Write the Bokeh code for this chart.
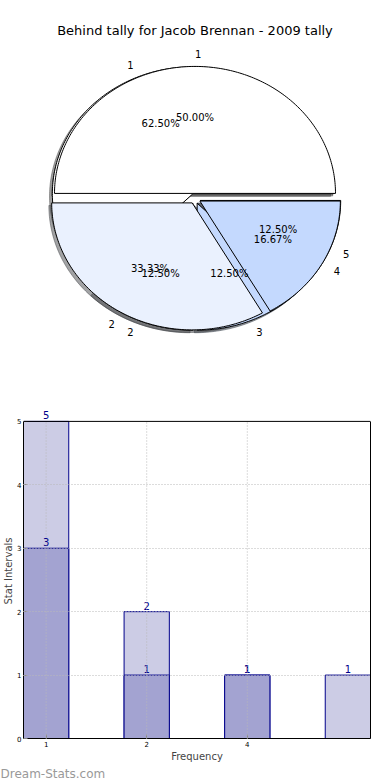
import numpy as np
from bokeh.plotting import figure
from bokeh.models import (Range1d, ColumnDataSource, FixedTicker, Label, Title, Span,
                          LinearAxis)
from bokeh.layouts import column
from bokeh.embed import file_html
from bokeh.resources import INLINE
from bokeh.core.properties import value

# ---------------- data ----------------
TITLE = "Behind tally for Jacob Brennan - 2009 tally"

pie1_labels = ["1", "2", "3", "5"]
pie1_values = [5, 1, 1, 1]
pie2_labels = ["1", "2", "4"]
pie2_values = [3, 2, 1]
pie_colors = ["#ffffff", "#eaf1fe", "#c4d9fe", "#a8c6fd"]

bar_categories = ["1", "2", "4", ""]
bar_light = [5, 2, 1, 1]
bar_dark = [3, 1, 1, 0]
y_label = "Stat Intervals"
x_label = "Frequency"
watermark = "Dream-Stats.com"

FONT = value("DejaVu Sans")

# shared horizontal frame borders (the column aligns plot frames)
BORDER_L, BORDER_R = 23, 20
W = 390

# ---------------- pie figure ----------------
PIE_H = 400
CX, CY = 194.5, 198.0      # pie centre, px from left / top of page
SX, SY = 140.5, 127.0      # px per unit radius
EXPLODE = 0.04
SHADOW = (-0.02, -0.02)

pie = figure(width=W, height=PIE_H, output_backend="svg", toolbar_location=None,
             x_range=Range1d(-(CX - BORDER_L) / SX, (W - BORDER_R - CX) / SX),
             y_range=Range1d(-(PIE_H - CY) / SY, CY / SY),
             x_axis_type=None, y_axis_type=None,
             min_border_left=BORDER_L, min_border_right=BORDER_R,
             min_border_top=0, min_border_bottom=0)
pie.outline_line_color = None
pie.grid.visible = False
pie.background_fill_color = "white"
pie.border_fill_color = "white"


def pie_geometry(values):
    vals = np.asarray(values, dtype=float)
    fr = vals / vals.sum()
    t2 = np.cumsum(fr) * 2 * np.pi
    t1 = t2 - fr * 2 * np.pi
    mid = (t1 + t2) / 2
    cx = EXPLODE * np.cos(mid)
    cy = EXPLODE * np.sin(mid)
    polys_x, polys_y = [], []
    for a, b, x0, y0 in zip(t1, t2, cx, cy):
        th = np.linspace(a, b, max(int((b - a) / (2 * np.pi) * 360), 4))
        polys_x.append(np.concatenate([[x0], x0 + np.cos(th), [x0]]))
        polys_y.append(np.concatenate([[y0], y0 + np.sin(th), [y0]]))
    return fr, mid, cx, cy, polys_x, polys_y


geo = [pie_geometry(pie1_values), pie_geometry(pie2_values)]
labels_all = [pie1_labels, pie2_labels]


def shade(c):
    r, g, b = int(c[1:3], 16), int(c[3:5], 16), int(c[5:7], 16)
    return "#%02x%02x%02x" % (int(r * 0.3), int(g * 0.3), int(b * 0.3))


# shadows (drawn below every wedge)
for fr, mid, cx, cy, px, py in geo:
    cols = [shade(pie_colors[i % len(pie_colors)]) for i in range(len(px))]
    pie.patches([x + SHADOW[0] for x in px], [y + SHADOW[1] for y in py],
                fill_color=cols, fill_alpha=0.5, line_color=cols, line_alpha=0.5)

# wedges
for fr, mid, cx, cy, px, py in geo:
    cols = [pie_colors[i % len(pie_colors)] for i in range(len(px))]
    pie.patches(px, py, fill_color=cols, line_color="black", line_width=1)

# texts
for (fr, mid, cx, cy, px, py), labs in zip(geo, labels_all):
    pct = ["%.2f%%" % (100 * f) for f in fr]
    pie.text(cx + 0.6 * np.cos(mid), cy + 0.6 * np.sin(mid), text=pct,
             text_align="center", text_baseline="middle",
             text_font=FONT, text_font_size="10px", text_color="black")
    xt = cx + 1.1 * np.cos(mid)
    yt = cy + 1.1 * np.sin(mid)
    right = xt > 0
    for sel, al in ((right, "left"), (~right, "right")):
        if sel.any():
            pie.text(xt[sel], yt[sel], text=[l for l, s in zip(labs, sel) if s],
                     text_align=al, text_baseline="middle",
                     text_font=FONT, text_font_size="10px", text_color="black")

pie.text([0], [(CY - 30) / SY], text=[TITLE], text_align="center", text_baseline="middle",
         text_font=FONT, text_font_size="13px", text_color="black")

# ---------------- bar figure ----------------
BAR_H = 380
BAR_TOP, BAR_BOTTOM = 3, 40
PX_PER_UNIT = 63.8                      # frame height 319 px for 5 units
YMAX = max(bar_light)
Y_END = YMAX + (421 - 400 - BAR_TOP) / PX_PER_UNIT   # headroom for value labels
pos = list(range(len(bar_categories)))
BW = 0.45

bar = figure(width=W, height=BAR_H, output_backend="svg", toolbar_location=None,
             x_range=Range1d(-BW / 2, pos[-1] + BW / 2), y_range=Range1d(0, Y_END),
             min_border_left=BORDER_L, min_border_right=BORDER_R,
             min_border_top=BAR_TOP, min_border_bottom=BAR_BOTTOM)
bar.background_fill_color = "white"
bar.border_fill_color = "white"
bar.outline_line_color = None
left_axis = bar.yaxis[0]
bottom_axis = bar.xaxis[0]

src_l = ColumnDataSource(dict(x=pos, top=bar_light))
dpos = [p for p, v in zip(pos, bar_dark) if v > 0]
dval = [v for v in bar_dark if v > 0]
src_d = ColumnDataSource(dict(x=dpos, top=dval))

bar.vbar(x="x", top="top", width=BW, source=src_l, fill_color="#ccccE5", line_color="#00008b", line_width=1)
bar.vbar(x="x", top="top", width=BW, source=src_d, fill_color="#a3a3d1", line_color="#00008b", line_width=1)

# dotted grid drawn over the bars
tick_pos = [p for p, c in zip(pos, bar_categories) if c]
bar.xgrid.visible = False
bar.segment(x0=tick_pos, y0=[0] * len(tick_pos), x1=tick_pos, y1=[YMAX] * len(tick_pos),
            line_color="#b8b8b8", line_dash="1 2", line_width=1, level="overlay")
bar.ygrid.ticker = FixedTicker(ticks=list(range(1, YMAX)))
bar.ygrid.grid_line_color = "#b8b8b8"
bar.ygrid.grid_line_dash = "1 2"
bar.ygrid.grid_line_width = 1
bar.ygrid.level = "overlay"

# frame top edge at the top of the value scale
bar.add_layout(Span(location=YMAX, dimension="width", line_color="black", line_width=1,
                    level="overlay"))

for xs, vs in ((pos, bar_light), (dpos, dval)):
    for xv, v in zip(xs, vs):
        bar.add_layout(Label(x=xv, y=v, text=str(v), text_align="center",
                             text_baseline="alphabetic", y_offset=6,
                             text_font="DejaVu Sans", text_font_size="10px",
                             text_color="#00008b"))

bottom_axis.ticker = FixedTicker(ticks=tick_pos)
bottom_axis.major_label_overrides = {p: c for p, c in zip(pos, bar_categories) if c}
left_axis.ticker = FixedTicker(ticks=list(range(0, YMAX + 1)))
left_axis.bounds = (0, YMAX)
right_axis = LinearAxis(ticker=FixedTicker(ticks=[]), bounds=(0, YMAX))
bar.add_layout(right_axis, "right")
for ax in (bottom_axis, left_axis, right_axis):
    ax.axis_line_color = "black"
    ax.axis_line_width = 1
    ax.major_tick_in = 4
    ax.major_tick_out = 0
    ax.minor_tick_line_color = None
    ax.major_tick_line_color = "#888888"
for ax in (bottom_axis, left_axis):
    ax.major_label_text_font = "DejaVu Sans"
    ax.major_label_text_font_size = "7px"
    ax.major_label_text_color = "black"
    ax.major_label_standoff = 2
    ax.axis_label_text_font = "DejaVu Sans"
    ax.axis_label_text_font_size = "10px"
    ax.axis_label_text_font_style = "normal"
    ax.axis_label_standoff = 1
bottom_axis.axis_label = x_label
left_axis.axis_label = y_label
left_axis.axis_label_standoff = 0

bar.add_layout(Title(text=watermark, align="left", offset=-BORDER_L, standoff=0,
                     text_font="DejaVu Sans", text_font_size="12px",
                     text_font_style="normal", text_color="#999999"), "below")

layout = column(pie, bar, spacing=0)
open("out.html", "w").write(file_html(layout, INLINE))
